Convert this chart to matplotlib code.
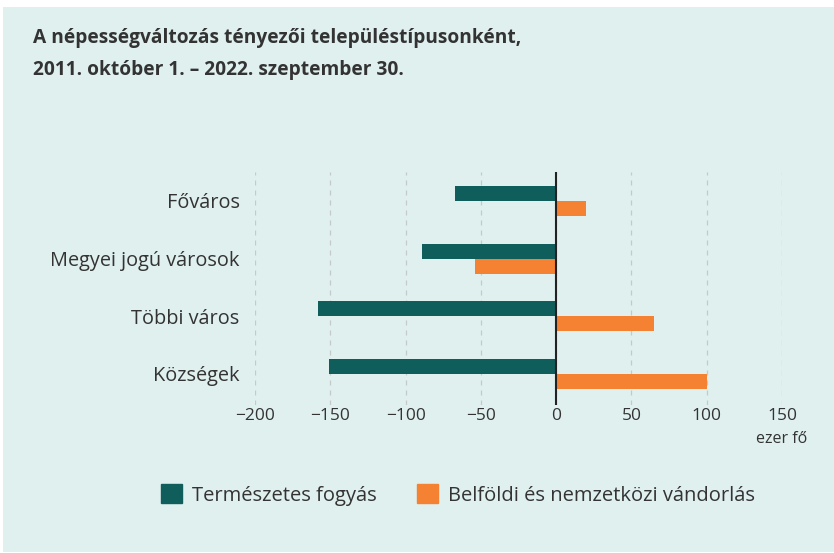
import matplotlib.pyplot as plt
from matplotlib.patches import Rectangle
import numpy as np

categories = ['Főváros', 'Megyei jogú városok', 'Többi város', 'Községek']
natural_decrease = [-67, -89, -158, -151]
migration = [20, -54, 65, 100]
series_names = ['Természetes fogyás', 'Belföldi és nemzetközi vándorlás']
x_ticks = [-200, -150, -100, -50, 0, 50, 100, 150]

GREEN = '#0f5e5c'
ORANGE = '#f58233'
BG = '#dff0ef'
TEXT = '#333333'

plt.rcParams['font.family'] = ['Open Sans', 'DejaVu Sans']

W, H = 834, 553
fig = plt.figure(figsize=(W / 100, H / 100), dpi=100)
fig.patch.set_facecolor('white')
fig.patches.append(Rectangle((3 / W, 1 - 552 / H), 831 / W, 545 / H,
                             transform=fig.transFigure, facecolor=BG,
                             edgecolor='none', zorder=-10))

ax = fig.add_axes([255 / W, 1 - 405 / H, 527 / W, 233 / H])
ax.set_facecolor('none')

y = np.arange(len(categories))
h = 0.26
ax.barh(y - h / 2, natural_decrease, height=h, color=GREEN, zorder=3)
ax.barh(y + h / 2, migration, height=h, color=ORANGE, zorder=3)
ax.axvline(0, color='#222222', lw=1.5, zorder=4)

ax.set_xlim(-200, 150)
ax.set_ylim(3.54, -0.5)
ax.set_xticks(x_ticks)
ax.set_xticklabels([str(t).replace('-', '\u2212') for t in x_ticks])
ax.set_yticks(y)
ax.set_yticklabels(categories)
ax.tick_params(axis='x', length=0, labelsize=12.5, colors=TEXT, pad=2)
ax.tick_params(axis='y', length=0, labelsize=14.3, colors=TEXT, pad=11)
ax.grid(axis='x', color='#c4c9c9', ls=(0, (4, 4)), lw=0.9, zorder=1)
for s in ax.spines.values():
    s.set_visible(False)

ax.text(150, -0.145, 'ezer fő', transform=ax.get_xaxis_transform(),
        ha='center', va='center', fontsize=11.5, color=TEXT)

fig.text(33 / W, 1 - 38 / H, 'A népességváltozás tényezői településtípusonként,',
         fontsize=13.8, fontweight='bold', color=TEXT, va='center')
fig.text(33 / W, 1 - 70 / H, '2011. október 1. – 2022. szeptember 30.',
         fontsize=13.8, fontweight='bold', color=TEXT, va='center')

handles = [Rectangle((0, 0), 1, 1, color=GREEN), Rectangle((0, 0), 1, 1, color=ORANGE)]
fig.legend(handles, series_names, loc='center', bbox_to_anchor=(458 / W, 1 - 495 / H),
           ncol=2, frameon=False, fontsize=14.5, handlelength=1.05, handleheight=1.05,
           handletextpad=0.5, columnspacing=2.0, labelcolor=TEXT)

fig.savefig('out.png', dpi=100)
